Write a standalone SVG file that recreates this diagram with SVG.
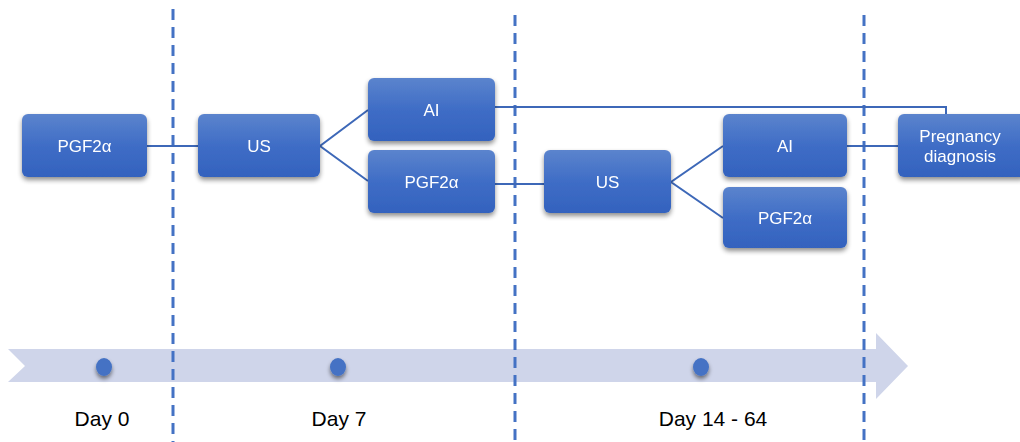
<svg xmlns="http://www.w3.org/2000/svg" width="1020" height="442" viewBox="0 0 1020 442">
<defs>
<linearGradient id="g" x1="0" y1="0" x2="0" y2="1">
<stop offset="0" stop-color="#5B84CD"/>
<stop offset="0.5" stop-color="#3F6DC6"/>
<stop offset="1" stop-color="#3362BE"/>
</linearGradient>
<filter id="sh" x="-20%" y="-20%" width="140%" height="150%">
<feGaussianBlur in="SourceAlpha" stdDeviation="2.5"/>
<feOffset dx="0" dy="3" result="b"/>
<feComponentTransfer><feFuncA type="linear" slope="0.45"/></feComponentTransfer>
<feMerge><feMergeNode/><feMergeNode in="SourceGraphic"/></feMerge>
</filter>
<filter id="dsh" x="-100%" y="-100%" width="300%" height="300%">
<feGaussianBlur in="SourceAlpha" stdDeviation="2"/>
<feOffset dx="0" dy="3"/>
<feComponentTransfer><feFuncA type="linear" slope="0.5"/></feComponentTransfer>
<feMerge><feMergeNode/><feMergeNode in="SourceGraphic"/></feMerge>
</filter>
</defs>
<style>
.node rect{fill:url(#g);}
.node text{fill:#fff;font-family:"Liberation Sans",Arial,sans-serif;font-size:17px;text-anchor:middle;}
.conn{stroke:#3D68B8;stroke-width:2;fill:none;}
.dash{stroke:#4472C4;stroke-width:3;stroke-dasharray:11 7;}
.dot{fill:#4472C4;}
.day{fill:#000;font-family:"Liberation Sans",Arial,sans-serif;font-size:21px;text-anchor:middle;}
</style>
<rect width="1020" height="442" fill="#fff"/>
<g id="timeline">
<polygon points="8,349 876,349 876,333 908,366 876,399 876,382 8,382 25,366" fill="#CFD5EA"/>
<g filter="url(#dsh)">
<ellipse class="dot" cx="104" cy="367" rx="8" ry="9"/>
<ellipse class="dot" cx="338" cy="367" rx="8" ry="9"/>
<ellipse class="dot" cx="701" cy="367" rx="8" ry="9"/>
</g>
<text class="day" x="102" y="426">Day 0</text>
<text class="day" x="339" y="426">Day 7</text>
<text class="day" x="713" y="426">Day 14 - 64</text>
</g>
<g id="dividers">
<line class="dash" x1="173" y1="9" x2="173" y2="442"/>
<line class="dash" x1="515" y1="15" x2="515" y2="442"/>
<line class="dash" x1="864" y1="15" x2="864" y2="442"/>
</g>
<g id="connectors">
<line class="conn" x1="147" y1="146" x2="198" y2="146"/>
<polyline class="conn" points="368,110 320,146 368,181"/>
<polyline class="conn" points="495,107 946,107 946,114"/>
<line class="conn" x1="495" y1="184" x2="544" y2="184"/>
<polyline class="conn" points="723,146 671,182 723,218"/>
<line class="conn" x1="847" y1="146" x2="899" y2="146"/>
</g>
<g id="n1" class="node" filter="url(#sh)"><rect x="22" y="114" width="125" height="63" rx="6"/><text x="84.5" y="152">PGF2α</text></g>
<g id="n2" class="node" filter="url(#sh)"><rect x="198" y="114" width="122" height="63" rx="6"/><text x="259" y="152">US</text></g>
<g id="n3" class="node" filter="url(#sh)"><rect x="368" y="78" width="127" height="63" rx="6"/><text x="431.5" y="116">AI</text></g>
<g id="n4" class="node" filter="url(#sh)"><rect x="368" y="150" width="127" height="63" rx="6"/><text x="431.5" y="188">PGF2α</text></g>
<g id="n5" class="node" filter="url(#sh)"><rect x="544" y="150" width="127" height="63" rx="6"/><text x="607.5" y="188">US</text></g>
<g id="n6" class="node" filter="url(#sh)"><rect x="723" y="114" width="124" height="63" rx="6"/><text x="785" y="152">AI</text></g>
<g id="n7" class="node" filter="url(#sh)"><rect x="723" y="187" width="124" height="61" rx="6"/><text x="785" y="223.5">PGF2α</text></g>
<g id="n8" class="node" filter="url(#sh)"><rect x="898" y="114" width="128" height="63" rx="6"/><text x="960" y="142">Pregnancy</text><text x="960" y="162">diagnosis</text></g>
</svg>
